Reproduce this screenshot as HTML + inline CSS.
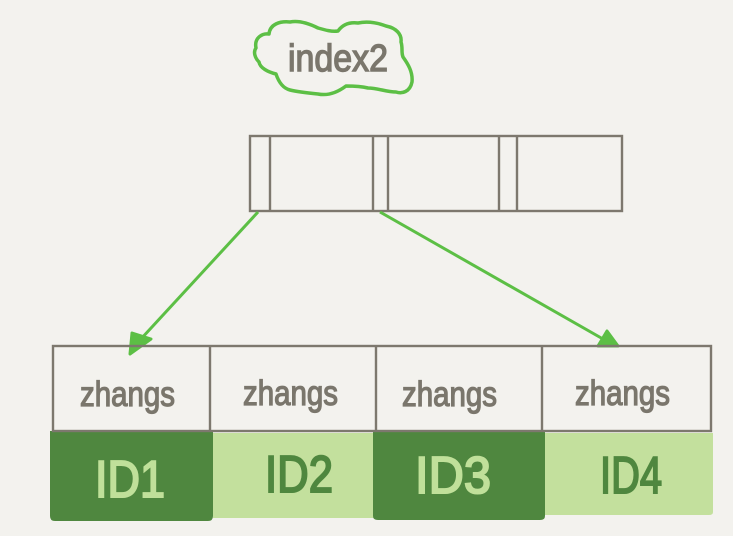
<!DOCTYPE html>
<html><head><meta charset="utf-8"><style>
html,body{margin:0;padding:0;background:#f3f2ee;}
svg{display:block;}
text{font-family:"Liberation Sans",sans-serif;}
</style></head><body>
<svg width="733" height="536" viewBox="0 0 733 536" xmlns="http://www.w3.org/2000/svg">
<rect width="733" height="536" fill="#f3f2ee"/>
<!-- cloud -->
<path d="M256,48 C254,38 262,33 269,34 C270,24 280,21 290,22 C300,20 310,24 318,28 C325,30 332,32 338,31 C343,24 350,22 358,23 C368,21 378,23 386,26 C396,28 402,34 401,42 C403,48 401,52 403,57 C408,64 413,72 412,82 C410,92 402,94 396,92 C386,92 378,88 368,88 C360,86 352,86 346,86 C338,92 328,96 318,94 C308,93 298,92 290,90 C282,88 278,80 276,74 C268,72 260,68 259,62 C255,58 253,52 256,48 Z" fill="none" stroke="#5cbf45" stroke-width="3.5" stroke-linejoin="round"/>
<text x="288" y="71" font-size="38" fill="#7a766c" stroke="#7a766c" stroke-width="1.4" textLength="100" lengthAdjust="spacingAndGlyphs">index2</text>
<!-- top node -->
<g fill="none" stroke="#7d786e" stroke-width="2.4">
<rect x="250" y="136" width="372" height="75"/>
<line x1="270" y1="136" x2="270" y2="211"/>
<line x1="373" y1="136" x2="373" y2="211"/>
<line x1="388" y1="136" x2="388" y2="211"/>
<line x1="499" y1="136" x2="499" y2="211"/>
<line x1="517" y1="136" x2="517" y2="211"/>
</g>
<!-- arrows -->
<g stroke="#5cbf45" stroke-width="3" fill="#5cbf45">
<line x1="258" y1="212" x2="140" y2="340"/>
<line x1="380" y1="212" x2="603" y2="339"/>
</g>
<path d="M130,354 L132,333 L151,339 Z" fill="#5cbf45" stroke="#5cbf45" stroke-width="3" stroke-linejoin="round"/>
<path d="M618,346 L598,346 L607,331 Z" fill="#5cbf45" stroke="#5cbf45" stroke-width="3" stroke-linejoin="round"/>
<!-- bottom cells -->
<path d="M50,431 L213,431 L213,516 Q213,521 208,521 L55,521 Q50,521 50,516 Z" fill="#4f873f"/>
<path d="M213,433 L375,433 L375,518 L213,518 Z" fill="#c3e09d"/>
<path d="M373,431 L545,431 L545,516 Q545,520 540,520 L378,520 Q373,520 373,516 Z" fill="#4f873f"/>
<path d="M545,433 L713,433 L713,512 Q713,515 709,515 L545,515 Z" fill="#c3e09d"/>
<!-- table -->
<g fill="none" stroke="#7d786e" stroke-width="2.4">
<rect x="53" y="346" width="658" height="85"/>
<line x1="210" y1="346" x2="210" y2="431"/>
<line x1="376" y1="346" x2="376" y2="431"/>
<line x1="542" y1="346" x2="542" y2="431"/>
</g>
<g font-size="35" fill="#7a766c" stroke="#7a766c" stroke-width="1.3">
<text x="80" y="406" textLength="95" lengthAdjust="spacingAndGlyphs">zhangs</text>
<text x="243" y="405" textLength="95" lengthAdjust="spacingAndGlyphs">zhangs</text>
<text x="402" y="406" textLength="95" lengthAdjust="spacingAndGlyphs">zhangs</text>
<text x="575" y="405" textLength="95" lengthAdjust="spacingAndGlyphs">zhangs</text>
</g>
<g font-size="52" stroke-width="2">
<text x="95" y="497" fill="#c0e09a" stroke="#c0e09a" textLength="70" lengthAdjust="spacingAndGlyphs">ID1</text>
<text x="265" y="492" fill="#4f873f" stroke="#4f873f" textLength="68" lengthAdjust="spacingAndGlyphs">ID2</text>
<text x="415" y="493" fill="#c0e09a" stroke="#c0e09a" textLength="76" lengthAdjust="spacingAndGlyphs">ID3</text>
<text x="600" y="493" fill="#4f873f" stroke="#4f873f" textLength="62" lengthAdjust="spacingAndGlyphs">ID4</text>
</g>
</svg>
</body></html>
